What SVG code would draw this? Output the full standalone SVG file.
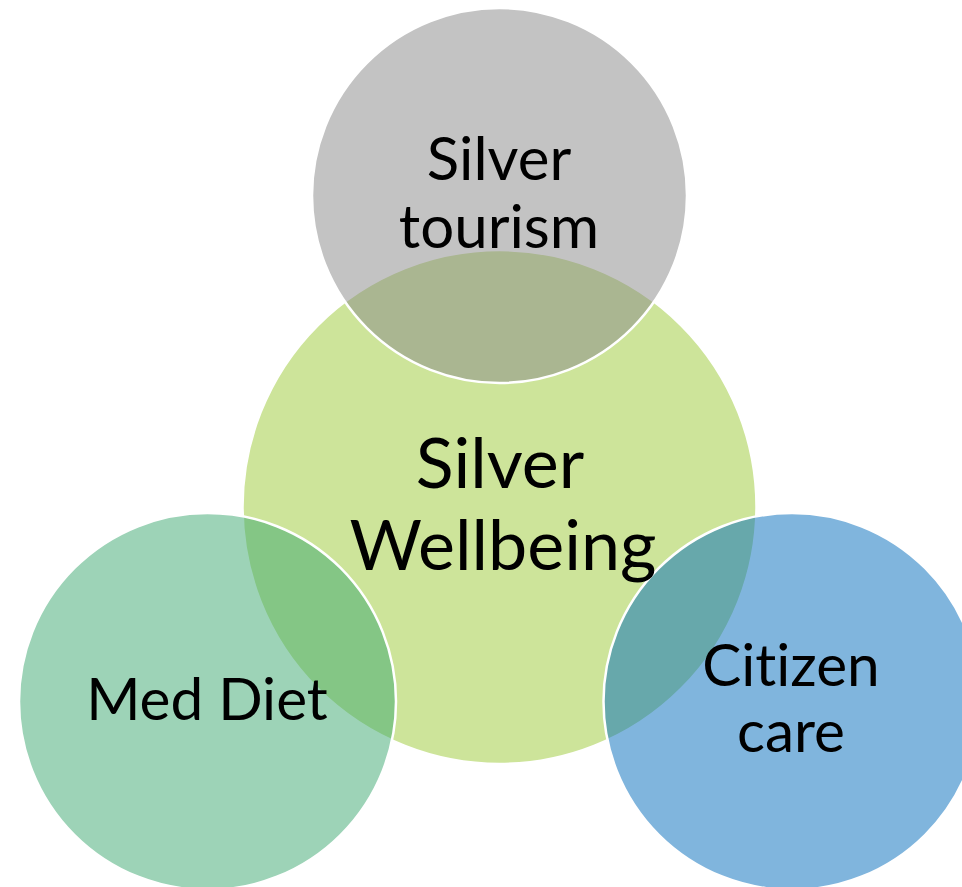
<svg xmlns="http://www.w3.org/2000/svg" width="962" height="887" viewBox="0 0 962 887">
<style>
.c{stroke:#ffffff;stroke-width:2.5}
.t{font-family:Lato,"Open Sans","Liberation Sans",sans-serif;fill:#000000;text-anchor:middle;font-variant-ligatures:none}
</style>
<rect width="962" height="887" fill="#ffffff"/>
<g id="silver-wellbeing">
<circle class="c" cx="499.5" cy="507" r="257" fill="#cde49a"/>
</g>
<g id="silver-tourism">
<circle class="c" cx="499.5" cy="195.5" r="187.5" fill="rgb(135,135,135)" fill-opacity="0.5"/>
</g>
<g id="med-diet">
<circle class="c" cx="207.5" cy="701.5" r="188.5" fill="rgb(59,167,111)" fill-opacity="0.5"/>
</g>
<g id="citizen-care">
<circle class="c" cx="792" cy="701.5" r="188.5" fill="rgb(1,107,187)" fill-opacity="0.5"/>
</g>
<g id="labels">
<text class="t" x="499" y="180" font-size="60">Silver</text>
<text class="t" x="499" y="248" font-size="60">tourism</text>
<text class="t" x="500" y="488" font-size="70">Silver</text>
<text class="t" x="503" y="570" font-size="70">Wellbeing</text>
<text class="t" x="207" y="720" font-size="58.5">Med Diet</text>
<text class="t" x="791" y="686" font-size="58.5">Citizen</text>
<text class="t" x="791" y="752" font-size="58.5">care</text>
</g>
<g id="connectors"/>
</svg>
